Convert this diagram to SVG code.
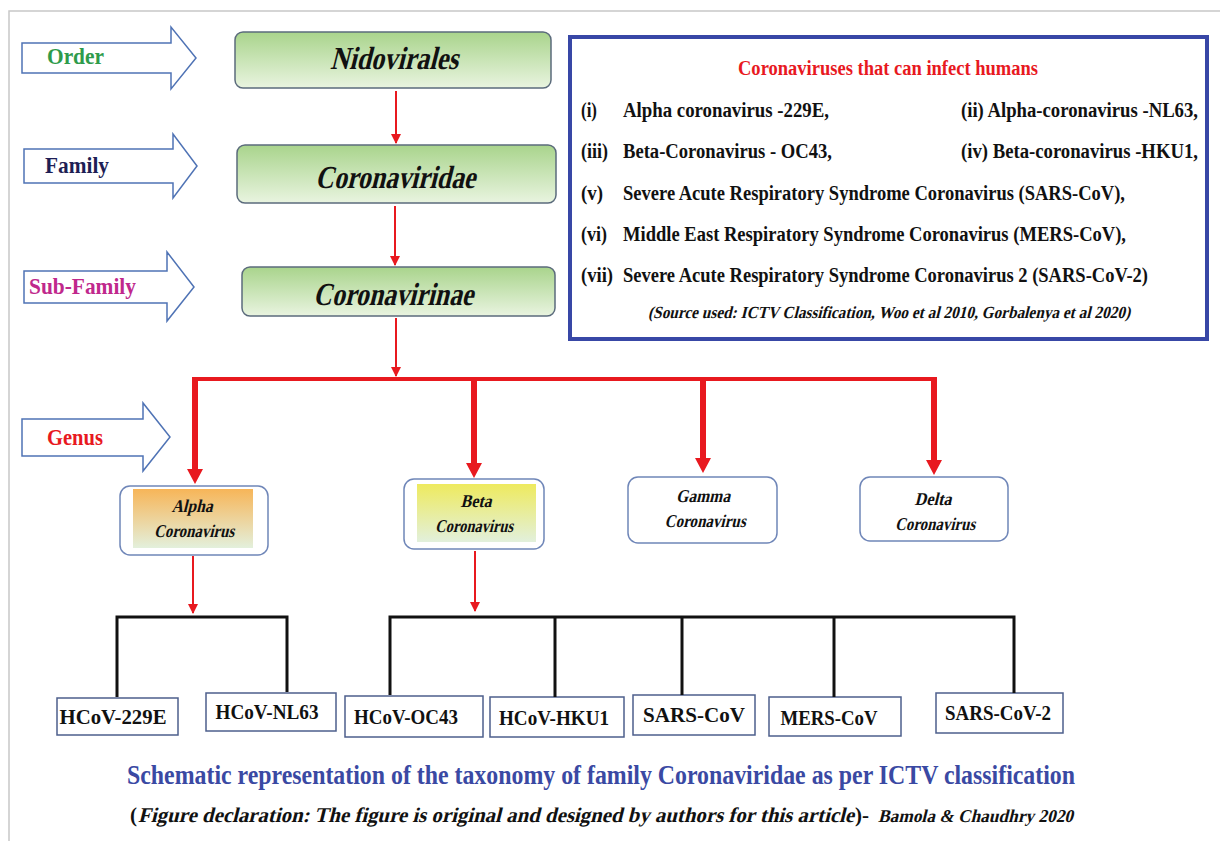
<svg xmlns="http://www.w3.org/2000/svg" width="1220" height="841" viewBox="0 0 1220 841">
<defs>
<linearGradient id="gGreen" x1="0" y1="0" x2="0" y2="1">
<stop offset="0" stop-color="#a9d48c"/>
<stop offset="1" stop-color="#e9f4e0"/>
</linearGradient>
<linearGradient id="gOrange" x1="0" y1="0" x2="0" y2="1">
<stop offset="0" stop-color="#f7b558"/>
<stop offset="1" stop-color="#e3f0dc"/>
</linearGradient>
<linearGradient id="gYellow" x1="0" y1="0" x2="0" y2="1">
<stop offset="0" stop-color="#eeea5e"/>
<stop offset="1" stop-color="#e2f0dc"/>
</linearGradient>
<marker id="redHead" viewBox="0 0 10 10" refX="9" refY="5" markerWidth="5" markerHeight="5" orient="auto" markerUnits="strokeWidth">
<path d="M0,0 L10,5 L0,10 z" fill="#e8191f"/>
</marker>
<style>
text{font-family:"Liberation Serif","Times New Roman",serif;font-weight:bold}
.lvl{fill:#fff;stroke:#4f73b5;stroke-width:1.5}
.lvlT{font-size:23px}
.green{fill:url(#gGreen);stroke:#5b6b7c;stroke-width:1.5}
.greenT{font-size:32px;fill:#111;text-anchor:middle}
.genus{fill:#fff;stroke:#6f86b8;stroke-width:1.5}
.genusT{font-size:18px;fill:#111;text-anchor:middle}
.leaf{fill:#fff;stroke:#4d5f8c;stroke-width:1.5}
.leafT{font-size:20px;fill:#111;text-anchor:middle}
.thin{stroke:#e8191f;stroke-width:2;fill:none;marker-end:url(#redHead)}
.thick{stroke:#e8191f;stroke-width:6;fill:none}
.head{fill:#e8191f}
.blk{stroke:#111;stroke-width:3;fill:none}
.boxT{font-size:20px;fill:#111}
</style>
</defs>
<rect width="1220" height="841" fill="#fff"/>
<path d="M9,841 L9,11 L1220,11" fill="none" stroke="#c8c8c8" stroke-width="1.5"/>

<g id="level-order">
<path class="lvl" d="M22,43 H171 V27 L196,58 L171,89 V73 H22 Z"/>
<text class="lvlT" x="47" y="64" fill="#2e9b4b" textLength="57" lengthAdjust="spacingAndGlyphs">Order</text>
</g>
<g id="level-family">
<path class="lvl" d="M24,149 H173 V134 L197,166 L173,198 V183 H24 Z"/>
<text class="lvlT" x="45" y="173" fill="#1e1e55" textLength="64" lengthAdjust="spacingAndGlyphs">Family</text>
</g>
<g id="level-subfamily">
<path class="lvl" d="M24,271 H167 V252 L194,287 L167,321 V303 H24 Z"/>
<text class="lvlT" x="29" y="294" fill="#c0288c" textLength="107" lengthAdjust="spacingAndGlyphs">Sub-Family</text>
</g>
<g id="level-genus">
<path class="lvl" d="M22,419 H143 V403 L170,437 L143,471 V456 H22 Z"/>
<text class="lvlT" x="47" y="445" fill="#e8191f" textLength="56" lengthAdjust="spacingAndGlyphs">Genus</text>
</g>

<g id="node-nidovirales">
<rect class="green" x="235" y="32" width="316" height="56" rx="8"/>
<text class="greenT" transform="translate(394,69) skewX(-14)" textLength="128" lengthAdjust="spacingAndGlyphs">Nidovirales</text>
</g>
<g id="node-coronaviridae">
<rect class="green" x="237" y="145" width="319" height="58" rx="8"/>
<text class="greenT" transform="translate(395,188) skewX(-14)" textLength="160" lengthAdjust="spacingAndGlyphs">Coronaviridae</text>
</g>
<g id="node-coronavirinae">
<rect class="green" x="242" y="267" width="313" height="49" rx="8"/>
<text class="greenT" transform="translate(393,305) skewX(-14)" textLength="160" lengthAdjust="spacingAndGlyphs">Coronavirinae</text>
</g>

<g id="info-box">
<rect x="570" y="37" width="637" height="302" fill="#fff" stroke="#3847a6" stroke-width="4"/>
<text x="888" y="75" text-anchor="middle" font-size="20" fill="#e8191f" textLength="300" lengthAdjust="spacingAndGlyphs">Coronaviruses that can infect humans</text>
<text class="boxT" x="581" y="117" textLength="16" lengthAdjust="spacingAndGlyphs">(i)</text>
<text class="boxT" x="623" y="117" textLength="206" lengthAdjust="spacingAndGlyphs">Alpha coronavirus -229E,</text>
<text class="boxT" x="961" y="117" textLength="237" lengthAdjust="spacingAndGlyphs">(ii) Alpha-coronavirus -NL63,</text>
<text class="boxT" x="581" y="158" textLength="27" lengthAdjust="spacingAndGlyphs">(iii)</text>
<text class="boxT" x="623" y="158" textLength="209" lengthAdjust="spacingAndGlyphs">Beta-Coronavirus - OC43,</text>
<text class="boxT" x="961" y="158" textLength="237" lengthAdjust="spacingAndGlyphs">(iv) Beta-coronavirus -HKU1,</text>
<text class="boxT" x="581" y="200" textLength="22" lengthAdjust="spacingAndGlyphs">(v)</text>
<text class="boxT" x="623" y="200" textLength="502" lengthAdjust="spacingAndGlyphs">Severe Acute Respiratory Syndrome Coronavirus (SARS-CoV),</text>
<text class="boxT" x="581" y="241" textLength="26" lengthAdjust="spacingAndGlyphs">(vi)</text>
<text class="boxT" x="623" y="241" textLength="503" lengthAdjust="spacingAndGlyphs">Middle East Respiratory Syndrome Coronavirus (MERS-CoV),</text>
<text class="boxT" x="581" y="282" textLength="32" lengthAdjust="spacingAndGlyphs">(vii)</text>
<text class="boxT" x="623" y="282" textLength="525" lengthAdjust="spacingAndGlyphs">Severe Acute Respiratory Syndrome Coronavirus 2 (SARS-CoV-2)</text>
<text transform="translate(889,318) skewX(-14)" text-anchor="middle" font-size="17" fill="#111" textLength="482" lengthAdjust="spacingAndGlyphs">(Source used: ICTV Classification,  Woo et al 2010, Gorbalenya et al 2020)</text>
</g>

<g id="node-alpha">
<rect class="genus" x="120" y="486" width="148" height="69" rx="10"/>
<rect x="133" y="489" width="120" height="59" fill="url(#gOrange)"/>
<text class="genusT" transform="translate(192,512) skewX(-14)" textLength="41" lengthAdjust="spacingAndGlyphs">Alpha</text>
<text class="genusT" transform="translate(194,537) skewX(-14)" textLength="80" lengthAdjust="spacingAndGlyphs">Coronavirus</text>
</g>
<g id="node-beta">
<rect class="genus" x="404" y="479" width="140" height="70" rx="10"/>
<rect x="417" y="484" width="119" height="58" fill="url(#gYellow)"/>
<text class="genusT" transform="translate(476,507) skewX(-14)" textLength="31" lengthAdjust="spacingAndGlyphs">Beta</text>
<text class="genusT" transform="translate(474,532) skewX(-14)" textLength="78" lengthAdjust="spacingAndGlyphs">Coronavirus</text>
</g>
<g id="node-gamma">
<rect class="genus" x="628" y="477" width="149" height="66" rx="10"/>
<text class="genusT" transform="translate(703,502) skewX(-14)" textLength="54" lengthAdjust="spacingAndGlyphs">Gamma</text>
<text class="genusT" transform="translate(705,527) skewX(-14)" textLength="81" lengthAdjust="spacingAndGlyphs">Coronavirus</text>
</g>
<g id="node-delta">
<rect class="genus" x="860" y="477" width="148" height="64" rx="10"/>
<text class="genusT" transform="translate(933,505) skewX(-14)" textLength="37" lengthAdjust="spacingAndGlyphs">Delta</text>
<text class="genusT" transform="translate(935,530) skewX(-14)" textLength="80" lengthAdjust="spacingAndGlyphs">Coronavirus</text>
</g>

<g id="node-hcov-229e">
<rect class="leaf" x="57" y="698" width="121" height="37"/>
<text class="leafT" x="113" y="724" textLength="107" lengthAdjust="spacingAndGlyphs">HCoV-229E</text>
</g>
<g id="node-hcov-nl63">
<rect class="leaf" x="206" y="693" width="130" height="38"/>
<text class="leafT" x="267" y="719" textLength="103" lengthAdjust="spacingAndGlyphs">HCoV-NL63</text>
</g>
<g id="node-hcov-oc43">
<rect class="leaf" x="345" y="696" width="138" height="41"/>
<text class="leafT" x="406" y="724" textLength="104" lengthAdjust="spacingAndGlyphs">HCoV-OC43</text>
</g>
<g id="node-hcov-hku1">
<rect class="leaf" x="490" y="697" width="134" height="40"/>
<text class="leafT" x="554" y="725" textLength="110" lengthAdjust="spacingAndGlyphs">HCoV-HKU1</text>
</g>
<g id="node-sars-cov">
<rect class="leaf" x="633" y="695" width="122" height="40"/>
<text class="leafT" x="694" y="722" textLength="102" lengthAdjust="spacingAndGlyphs">SARS-CoV</text>
</g>
<g id="node-mers-cov">
<rect class="leaf" x="769" y="697" width="132" height="39"/>
<text class="leafT" x="829" y="725" textLength="97" lengthAdjust="spacingAndGlyphs">MERS-CoV</text>
</g>
<g id="node-sars-cov-2">
<rect class="leaf" x="936" y="693" width="127" height="40"/>
<text class="leafT" x="998" y="720" fill="#e8191f" textLength="106" lengthAdjust="spacingAndGlyphs">SARS-CoV-2</text>
</g>

<g id="connectors">
<line class="thin" x1="396" y1="91" x2="396" y2="143"/>
<line class="thin" x1="395" y1="206" x2="395" y2="265"/>
<line class="thin" x1="396" y1="318" x2="396" y2="376"/>
<path d="M192,379 H936" stroke="#e8191f" stroke-width="4" fill="none"/>
<line class="thick" x1="195" y1="377" x2="195" y2="471"/>
<polygon class="head" points="187,469 203,469 195,484"/>
<line class="thick" x1="474" y1="377" x2="474" y2="465"/>
<polygon class="head" points="466,463 482,463 474,478"/>
<line class="thick" x1="703" y1="377" x2="703" y2="460"/>
<polygon class="head" points="695,458 711,458 703,473"/>
<line class="thick" x1="934" y1="377" x2="934" y2="462"/>
<polygon class="head" points="926,460 942,460 934,475"/>
<line class="thin" x1="193" y1="556" x2="193" y2="613"/>
<line class="thin" x1="475" y1="551" x2="475" y2="611"/>
<path class="blk" d="M117,697 V617 H287 V692"/>
<path class="blk" d="M390,695 V617 H1014 V693"/>
<line class="blk" x1="555" y1="617" x2="555" y2="697"/>
<line class="blk" x1="682" y1="617" x2="682" y2="695"/>
<line class="blk" x1="834" y1="617" x2="834" y2="697"/>
</g>

<g id="caption">
<text x="601" y="784" text-anchor="middle" font-size="27" fill="#3a49a3" textLength="948" lengthAdjust="spacingAndGlyphs">Schematic representation of the taxonomy of family Coronaviridae as per ICTV classification</text>
<text x="130" y="822" font-size="21" fill="#111">(</text>
<text transform="translate(138,822) skewX(-14)" font-size="21" fill="#111" textLength="716" lengthAdjust="spacingAndGlyphs">Figure declaration: The figure is original and designed by authors for this article</text>
<text x="855" y="822" font-size="21" fill="#111">)-</text>
<text transform="translate(878,822) skewX(-14)" font-size="18" fill="#111" textLength="195" lengthAdjust="spacingAndGlyphs">Bamola &amp; Chaudhry 2020</text>
</g>
</svg>
